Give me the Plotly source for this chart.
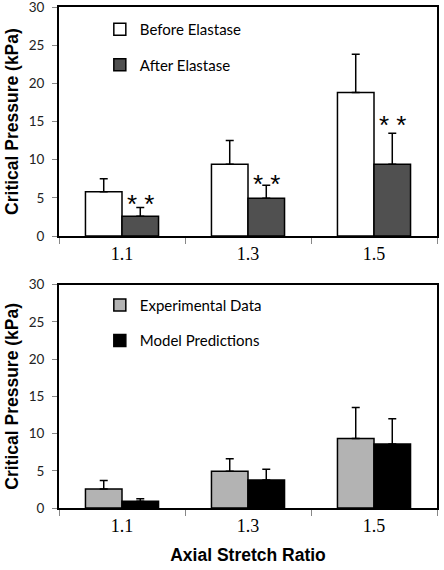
import plotly.graph_objects as go

categories = ["1.1", "1.3", "1.5"]

# Top panel
before_vals = [5.8, 9.4, 18.8]
before_err = [1.7, 3.1, 5.0]
after_vals = [2.6, 4.95, 9.4]
after_err = [1.15, 1.7, 4.05]
star_levels = [4.7, 7.4, 15.1]

# Bottom panel
exp_vals = [2.55, 4.95, 9.35]
exp_err = [1.15, 1.65, 4.15]
model_vals = [0.9, 3.75, 8.6]
model_err = [0.35, 1.45, 3.4]

fig = go.Figure()

def err(arr):
    return dict(type="data", array=arr, arrayminus=[0] * len(arr), symmetric=False,
                color="black", thickness=1.5, width=4)

bar_line = dict(color="black", width=1.5)

fig.add_trace(go.Bar(x=categories, y=before_vals, name="Before Elastase",
                     marker=dict(color="white", line=bar_line), error_y=err(before_err),
                     xaxis="x", yaxis="y", legend="legend", legendgroup="a"))
fig.add_trace(go.Bar(x=categories, y=after_vals, name="After Elastase",
                     marker=dict(color="#505050", line=bar_line), error_y=err(after_err),
                     xaxis="x", yaxis="y", legend="legend", legendgroup="b"))
fig.add_trace(go.Bar(x=categories, y=exp_vals, name="Experimental Data",
                     marker=dict(color="#b3b3b3", line=bar_line), error_y=err(exp_err),
                     xaxis="x2", yaxis="y2", legend="legend2", legendgroup="c"))
fig.add_trace(go.Bar(x=categories, y=model_vals, name="Model Predictions",
                     marker=dict(color="black", line=bar_line), error_y=err(model_err),
                     xaxis="x2", yaxis="y2", legend="legend2", legendgroup="d"))

for i, s in enumerate(star_levels):
    fig.add_annotation(x=i, y=s, xref="x", yref="y", text="* *", showarrow=False,
                       xshift=18, yshift=-4,
                       font=dict(family="Liberation Sans", size=26, color="black"),
                       yanchor="middle")

xcommon = dict(showline=True, mirror=True, linecolor="black", linewidth=2,
               ticks="outside", tickson="boundaries", ticklen=6, tickcolor="#888",
               automargin=False,
               tickfont=dict(family="Liberation Serif", size=18, color="black"))
ycommon = dict(range=[0, 30], dtick=5, showline=True, mirror=True, linecolor="black",
               linewidth=2, ticks="outside", ticklen=5, tickcolor="#888",
               showgrid=False, zeroline=False, automargin=False,
               ticklabeloverflow="allow", ticklabelstandoff=5,
               tickfont=dict(family="Lato", size=13.5, color="#222"),
               title=dict(text="<b>Critical Pressure (kPa)</b>",
                          font=dict(family="Liberation Sans", size=17.5, color="black"),
                          standoff=5))

legend_common = dict(font=dict(family="Lato", size=15, color="black"),
                     bgcolor="rgba(0,0,0,0)", borderwidth=0, tracegroupgap=13,
                     xanchor="left", yanchor="top", itemwidth=30)

fig.update_layout(
    width=444, height=570,
    margin=dict(l=59, r=7, t=7, b=62),
    paper_bgcolor="white", plot_bgcolor="white",
    barmode="group", bargap=0.42, bargroupgap=0,
    showlegend=True,
    xaxis=dict(domain=[0, 1], anchor="y", **xcommon),
    yaxis=dict(domain=[0.5428, 1.0], anchor="x", **ycommon),
    xaxis2=dict(domain=[0, 1], anchor="y2",
                title=dict(text="<b>Axial Stretch Ratio</b>",
                           font=dict(family="Liberation Sans", size=17.5, color="black"),
                           standoff=14),
                **xcommon),
    yaxis2=dict(domain=[0.0, 0.4457], anchor="x2", **ycommon),
    legend=dict(x=0.108, y=0.988, **legend_common),
    legend2=dict(x=0.108, y=0.4375, **legend_common),
)

fig.write_html("out.html", config={"displayModeBar": False},
               post_script="document.body.style.margin='0';document.body.style.padding='0';")
